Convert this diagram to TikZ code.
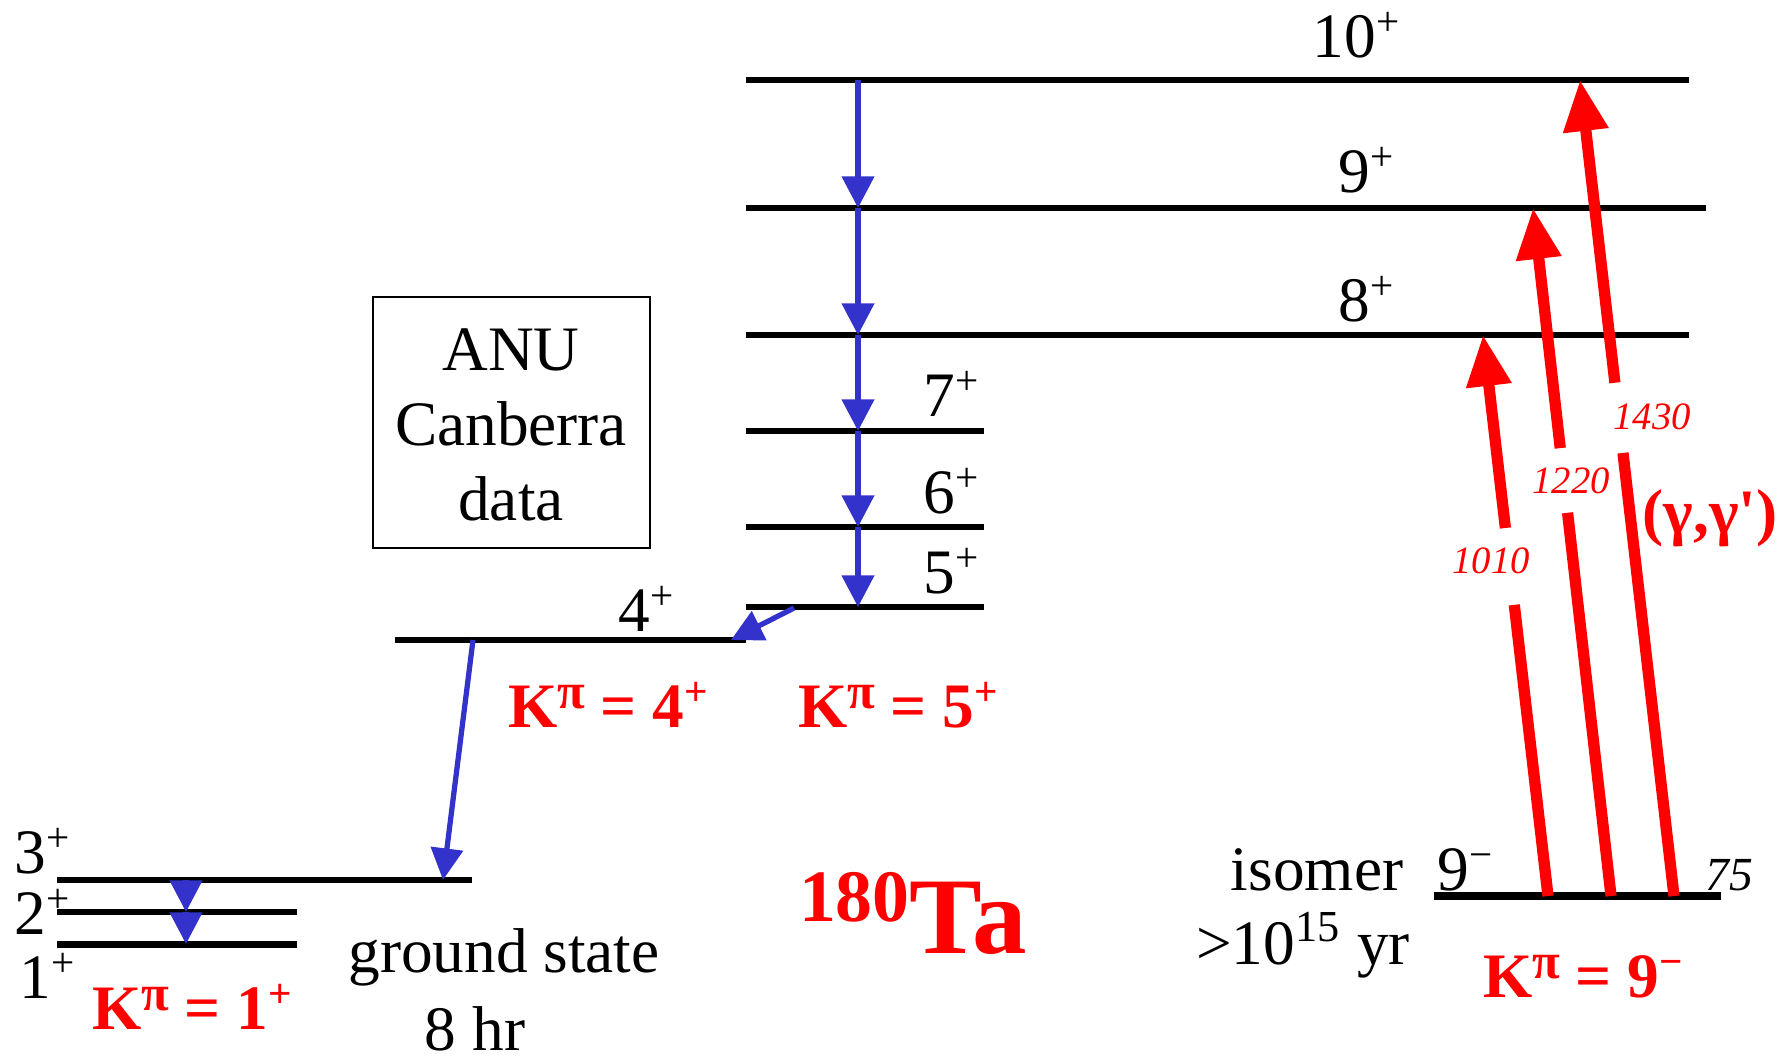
\documentclass[tikz,border=0pt]{standalone}
\usepackage{fontspec}
\setmainfont{Liberation Serif}
\usetikzlibrary{arrows.meta, calc, positioning}
\definecolor{gammablue}{HTML}{3333CC}
\definecolor{excred}{HTML}{FF0000}
\newcommand{\sps}[1]{\raisebox{0.34em}{\scalebox{0.65}{#1}}}
\newcommand{\kpisup}{\raisebox{0.3em}{\scalebox{0.8}{π}}}
\tikzset{
  lvl/.style={line width=1.7pt},
  lab/.style={font=\fontsize{18}{21.4}\selectfont, inner sep=0pt, anchor=base},
  kpi/.style={font=\fontsize{18}{21.4}\selectfont\bfseries, text=excred, inner sep=0pt, anchor=base},
  elab/.style={font=\fontsize{11}{12}\selectfont\itshape, text=excred, inner sep=0pt, anchor=base},
  gam/.style={gammablue, line width=1.5pt, -{Triangle[width=9pt,length=9pt]}},
  rise/.style={excred, line width=3.2pt},
  risetip/.style={rise, -{Triangle[width=12.2pt,length=14.5pt]}},
}
\begin{document}
\begin{tikzpicture}[x=0.01cm, y=-0.01cm]
\useasboundingbox (0,0) rectangle (1789,1060);

% levels
\draw[lvl] (746,80) -- (1689,80);
\draw[lvl] (746,208) -- (1706,208);
\draw[lvl] (746,335) -- (1689,335);
\foreach \y in {431,527,607} \draw[lvl] (746,\y) -- (984,\y);
\draw[lvl] (395,640) -- (746,640);
\draw[lvl] (57,880) -- (472,880);
\draw[lvl] (57,912) -- (297,912);
\draw[lvl, line width=2pt] (57,944) -- (297,944);
\draw[lvl, line width=2.3pt] (1434,896) -- (1721,896);

% spin labels
\node[lab] (s10) at (1356,57) {10\sps{+}};
\node[lab] (s9) at (1366,192) {9\sps{+}};
\node[lab] (s8) at (1366,321) {8\sps{+}};
\node[lab] (s7) at (951,416) {7\sps{+}};
\node[lab] (s6) at (951,513) {6\sps{+}};
\node[lab] (s5) at (951,593) {5\sps{+}};
\node[lab] (s4) at (646,631) {4\sps{+}};
\node[lab, anchor=base west] (s3) at (14,873) {3\sps{+}};
\node[lab, anchor=base west] (s2) at (14,934) {2\sps{+}};
\node[lab, anchor=base west] (s1) at (19,998) {1\sps{+}};
\node[lab] (s9m) at (1465,890) {9\sps{−}};
\node[lab, font=\fontsize{13.5}{14}\selectfont\itshape] (e75) at (1729,890) {75};

% texts
\node[draw, line width=0.6pt, minimum width=2.76cm, minimum height=2.51cm] (anubox) at (511.5,422.5) {};
\node[lab, align=center, anchor=center] (anu) at (511,425) {ANU\\Canberra\\data};
\node[lab] (gs) at (504,972) {ground state};
\node[lab] (gshr) at (475,1050) {8 hr};
\node[lab] (iso) at (1317,890) {isomer};
\node[lab] (isoyr) at (1303,964) {>10\textsuperscript{15} yr};
\node[kpi] (k1) at (192,1029) {K\kpisup{} = 1\sps{+}};
\node[kpi] (k4) at (608,727) {K\kpisup{} = 4\sps{+}};
\node[kpi] (k5) at (898,727) {K\kpisup{} = 5\sps{+}};
\node[kpi] (k9) at (1583,997) {K\kpisup{} = 9\sps{−}};
\node[kpi] (gg) at (1710,533) {(γ,γ\textquotesingle)};
\node[kpi, inner sep=0pt] (ta) at (913,953) {\raisebox{9pt}{\fontsize{21}{21}\selectfont 180}\fontsize{31}{31}\selectfont Ta};

% gamma cascade
\foreach \n/\y in {10/80,9/208,8/335,7/431,6/527,5/607} \coordinate (b\n) at (858,\y);
\foreach \a/\b in {10/9,9/8,8/7,7/6,6/5} \draw[gam] (b\a) -- (b\b);
\coordinate (b5a) at (794,608);
\coordinate (b4) at (731,640);
\coordinate (b4a) at (473,640);
\coordinate (b3) at (443,880);
\coordinate (b3a) at (186,880);
\coordinate (b2) at (186,912);
\coordinate (b1) at (186,944);
\draw[gam] (b5a) -- (b4);
\draw[gam] (b4a) -- (b3);
\draw[gam] (b3a) -- (b2);
\draw[gam] (b2) -- (b1);

% photoexcitation from the isomer
\coordinate (i1) at (1548,896); \coordinate (f8) at (1483,335);
\coordinate (i2) at (1611,896); \coordinate (f9) at (1533,208);
\coordinate (i3) at (1674,896); \coordinate (f10) at (1580,80);
\foreach \i/\f/\p/\q in {i1/f8/0.519/0.656, i2/f9/0.557/0.651, i3/f10/0.543/0.629} {
  \draw[rise] (\i) -- ($(\i)!\p!(\f)$);
  \draw[risetip] ($(\i)!\q!(\f)$) -- (\f);
}
\node[elab] (e1010) at (1491,573) {1010};
\node[elab] (e1220) at (1571,493) {1220};
\node[elab] (e1430) at (1652,429) {1430};
\end{tikzpicture}
\end{document}
